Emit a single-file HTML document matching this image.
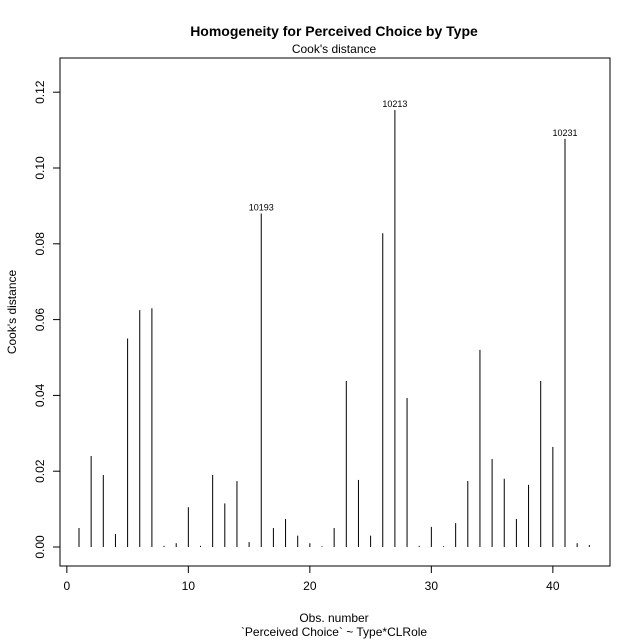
<!DOCTYPE html>
<html><head><meta charset="utf-8"><style>
body{margin:0;background:#fff}
svg{display:block;font-family:"Liberation Sans",Arial,sans-serif}
</style></head><body>
<svg id="c" width="640" height="640">
<text x="334" y="36" text-anchor="middle" font-size="14" font-weight="bold">Homogeneity for Perceived Choice by Type</text>
<text x="334" y="53" text-anchor="middle" font-size="12">Cook's distance</text>
<rect x="60" y="58" width="550" height="508" fill="none" stroke="#000"/>
<text x="334" y="622" text-anchor="middle" font-size="12">Obs. number</text>
<text x="334" y="636" text-anchor="middle" font-size="12">`Perceived Choice` ~ Type*CLRole</text>
<text transform="translate(16,312) rotate(-90)" text-anchor="middle" font-size="12">Cook's distance</text>
<g id="g"></g>
</svg>
<script>
const obs=[1,2,3,4,5,6,7,8,9,10,11,12,13,14,15,16,17,18,19,20,21,22,23,24,25,26,27,28,29,30,31,32,33,34,35,36,37,38,39,40,41,42,43];
const cook=[0.005,0.024,0.019,0.0034,0.055,0.0625,0.063,0.0003,0.001,0.0105,0.0003,0.019,0.0115,0.0174,0.0013,0.088,0.005,0.0074,0.003,0.001,0.0002,0.005,0.0438,0.0177,0.003,0.0828,0.1153,0.0393,0.0003,0.0053,0.0002,0.0063,0.0174,0.052,0.0232,0.018,0.0074,0.0164,0.0438,0.0264,0.1077,0.001,0.0005];
const labels={16:"10193",27:"10213",41:"10231"};
const xTicks=[0,10,20,30,40];
const yTicks=[0,0.02,0.04,0.06,0.08,0.10,0.12];
const yTickLabels=["0.00","0.02","0.04","0.06","0.08","0.10","0.12"];
const X=v=>66.85+v*12.15, Y=v=>547-v*3790;
const g=document.getElementById('g'),NS="http://www.w3.org/2000/svg";
function mk(t,a,txt){const e=document.createElementNS(NS,t);for(const k in a)e.setAttribute(k,a[k]);if(txt!=null)e.textContent=txt;g.appendChild(e);return e;}
xTicks.forEach(t=>{
 let l=mk('line',{x1:X(t),x2:X(t),y1:566,y2:573,stroke:'#000'});
 
 
 let tx=mk('text',{x:X(t),y:590,'text-anchor':'middle','font-size':12},String(t));
 
 
});
mk('line',{x1:X(0),x2:X(40),y1:566,y2:566,stroke:'#000'});
yTicks.forEach((t,i)=>{
 let l=mk('line',{x1:53,x2:60,y1:Y(t),y2:Y(t),stroke:'#000'});
 
 
 let tx=mk('text',{transform:`translate(44,${Y(t)}) rotate(-90)`,'text-anchor':'middle','font-size':12},yTickLabels[i]);
 
 
});
obs.forEach((o,i)=>{
 let l=mk('line',{x1:X(o),x2:X(o),y1:Y(0),y2:Y(cook[i]),stroke:'#000','stroke-width':1});
 
 
 if(labels[o]){
  let tx=mk('text',{x:X(o),y:Y(cook[i])-3,'text-anchor':'middle','font-size':9},labels[o]);
  
  
 }
});
</script>
</body></html>
